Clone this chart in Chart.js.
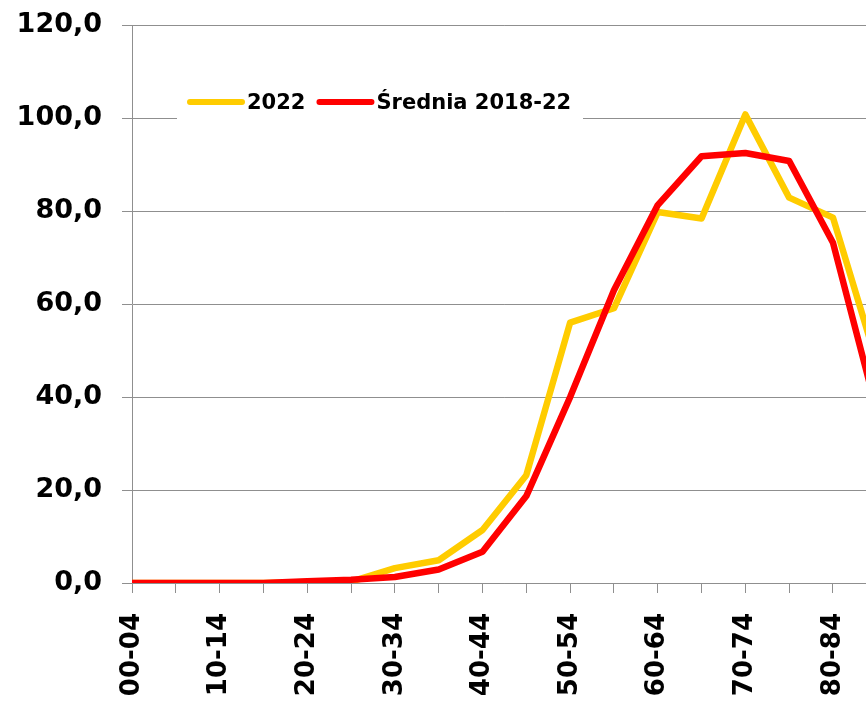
<!DOCTYPE html>
<html lang="pl">
<head>
<meta charset="utf-8">
<title>Zgony wg grup wieku</title>
<script src="https://cdn.jsdelivr.net/npm/chart.js@4/dist/chart.umd.min.js"></script>
<style>
  html, body { margin: 0; padding: 0; background: #fff; overflow: hidden; }
  #wrap { width: 866px; height: 704px; overflow: hidden; position: relative; }
  #chart { position: absolute; left: 0; top: -11px; }
</style>
</head>
<body>
<div id="wrap"><canvas id="chart" width="928" height="715"></canvas></div>
<script>
  "use strict";

  // age groups (every second one gets a label on the axis)
  var ageGroups = ["00-04", "05-09", "10-14", "15-19", "20-24", "25-29", "30-34", "35-39",
    "40-44", "45-49", "50-54", "55-59", "60-64", "65-69", "70-74", "75-79", "80-84", "85+"];

  var values2022 = [0, 0, 0, 0, 0.2, 0.3, 3.2, 4.9, 11.4, 23.2, 56.0, 59.1,
    79.8, 78.4, 100.8, 82.9, 78.6, 47.5];

  var valuesAvg = [0, 0, 0, 0, 0.4, 0.7, 1.3, 2.9, 6.7, 18.7, 40.0, 63.0,
    81.3, 91.8, 92.5, 90.8, 73.2, 37.0];

  var seriesNames = ["2022", "\u015arednia 2018-22"];
  var yTicks = [0, 20, 40, 60, 80, 100, 120];

  var FONT = "'DejaVu Sans', Verdana, sans-serif";
  var GRID = "#8f8f8f";
  Chart.defaults.font.family = FONT;
  Chart.defaults.color = "#000";

  function fmt(v) {
    return Number(v).toFixed(1).replace(".", ",");
  }

  // legend sits inside the plot on a white box, drawn by hand
  // (canvas is shifted up 11px by css, hence the +11 on y)
  var floatLegend = {
    id: "floatLegend",
    afterDraw: function (chart) {
      var ctx = chart.ctx;
      var x = 187, y = 103 + 11;
      ctx.save();
      ctx.fillStyle = "#fff";
      ctx.fillRect(177, 82 + 11, 406, 42);
      ctx.font = "bold 21px " + FONT;
      ctx.textBaseline = "middle";
      ctx.lineCap = "round";
      chart.data.datasets.forEach(function (ds) {
        ctx.strokeStyle = ds.borderColor;
        ctx.lineWidth = 6;
        ctx.beginPath();
        ctx.moveTo(x + 3, y - 1);
        ctx.lineTo(x + 55, y - 1);
        ctx.stroke();
        x += 60;
        ctx.fillStyle = "#000";
        ctx.fillText(ds.label, x, y + 1);
        x += ctx.measureText(ds.label).width + 11;
      });
      ctx.restore();
    }
  };

  new Chart(document.getElementById("chart"), {
    type: "line",
    data: {
      labels: ageGroups,
      datasets: [
        {
          label: seriesNames[0],
          data: values2022,
          borderColor: "#ffcc00",
          borderWidth: 6.5,
          pointRadius: 0,
          tension: 0,
          borderJoinStyle: "round",
          order: 2
        },
        {
          label: seriesNames[1],
          data: valuesAvg,
          borderColor: "#ff0000",
          borderWidth: 6.5,
          pointRadius: 0,
          tension: 0,
          borderJoinStyle: "round",
          order: 1
        }
      ]
    },
    options: {
      responsive: false,
      animation: false,
      events: [],
      layout: { padding: { top: 15, right: 14, left: 0, bottom: 0 } },
      plugins: {
        legend: { display: false },
        tooltip: { enabled: false }
      },
      scales: {
        x: {
          offset: false,
          grid: { drawOnChartArea: false, drawTicks: true, tickLength: 10, color: GRID },
          border: { color: GRID },
          ticks: {
            autoSkip: false,
            minRotation: 90,
            maxRotation: 90,
            padding: 20,
            font: { size: 26, weight: "bold" },
            callback: function (v, i) { return i % 2 === 0 ? ageGroups[i] : ""; }
          },
          afterFit: function (scale) { scale.height = 121; }
        },
        y: {
          min: 0,
          max: 120,
          afterBuildTicks: function (scale) {
            scale.ticks = yTicks.map(function (v) { return { value: v }; });
          },
          grid: { color: GRID, tickLength: 10 },
          border: { color: GRID },
          ticks: {
            padding: 20,
            font: { size: 27, weight: "bold" },
            callback: function (v) { return fmt(v); }
          },
          afterFit: function (scale) { scale.width = 132; }
        }
      }
    },
    plugins: [floatLegend]
  });
</script>
</body>
</html>
